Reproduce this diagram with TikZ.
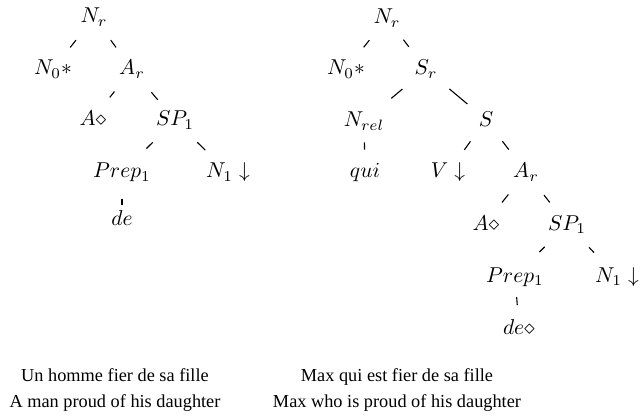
\documentclass[tikz,border=0pt]{standalone}
\usepackage{fontspec}
\setmainfont{Liberation Serif}
\usepackage{graphicx}
\usetikzlibrary{calc}
\newcommand{\mysegdraw}[4]{\draw[seg] ($(#1)!#3!(#2)$) -- ($(#1)!#4!(#2)$);}
\newcommand{\mymath}[1]{\scalebox{2.15}{$#1$}}
\begin{document}
\begin{tikzpicture}[x=1pt,y=-1pt,
  tn/.style={anchor=base,inner sep=0pt,font=\fontsize{10}{12}\selectfont},
  captxt/.style={anchor=base,inner sep=0pt,font=\fontsize{18.3}{26}\selectfont},
  seg/.style={line width=1.1pt}]
\useasboundingbox (0,0) rectangle (640,417);
% left tree
\node[tn] (lNr) at (94,23) {\mymath{N_r}};
\node[tn] (lN0) at (53,75) {\mymath{N_0{\ast}}};
\node[tn] (lAr) at (132,75) {\mymath{A_r}};
\node[tn] (lA) at (93,126) {\mymath{A{\diamond}}};
\node[tn] (lSP) at (175,126) {\mymath{SP_1}};
\node[tn] (lPrep) at (122,178) {\mymath{Prep_1}};
\node[tn] (lN1) at (228,178) {\mymath{N_1\;{\downarrow}}};
\node[tn] (lde) at (122,225) {\mymath{de}};
\mysegdraw{lNr}{lN0}{0.44}{0.58}
\mysegdraw{lNr}{lAr}{0.44}{0.58}
\mysegdraw{lAr}{lA}{0.45}{0.57}
\mysegdraw{lAr}{lSP}{0.45}{0.60}
\mysegdraw{lSP}{lPrep}{0.42}{0.54}
\mysegdraw{lSP}{lN1}{0.42}{0.57}
\mysegdraw{lPrep}{lde}{0.58}{0.72}
% right tree
\node[tn] (rNr) at (387,24) {\mymath{N_r}};
\node[tn] (rN0) at (346,75) {\mymath{N_0{\ast}}};
\node[tn] (rSr) at (426,75) {\mymath{S_r}};
\node[tn] (rNrel) at (364,127) {\mymath{N_{rel}}};
\node[tn] (rS) at (486,127) {\mymath{S}};
\node[tn] (rqui) at (365,178) {\mymath{qui}};
\node[tn] (rV) at (448,178) {\mymath{V\;{\downarrow}}};
\node[tn] (rAr) at (526,178) {\mymath{A_r}};
\node[tn] (rA) at (486,230) {\mymath{A{\diamond}}};
\node[tn] (rSP) at (567,230) {\mymath{SP_1}};
\node[tn] (rPrep) at (515,282) {\mymath{Prep_1}};
\node[tn] (rN1) at (617,282) {\mymath{N_1\;{\downarrow}}};
\node[tn] (rde) at (519,334) {\mymath{de{\diamond}}};
\mysegdraw{rNr}{rN0}{0.43}{0.57}
\mysegdraw{rNr}{rSr}{0.42}{0.56}
\mysegdraw{rSr}{rNrel}{0.38}{0.56}
\mysegdraw{rSr}{rS}{0.39}{0.69}
\mysegdraw{rNrel}{rqui}{0.41}{0.55}
\mysegdraw{rS}{rV}{0.41}{0.57}
\mysegdraw{rS}{rAr}{0.41}{0.57}
\mysegdraw{rAr}{rA}{0.44}{0.60}
\mysegdraw{rAr}{rSP}{0.44}{0.58}
\mysegdraw{rSP}{rPrep}{0.43}{0.53}
\mysegdraw{rSP}{rN1}{0.44}{0.54}
\mysegdraw{rPrep}{rde}{0.41}{0.57}
% captions
\node[captxt] (lcap1) at (115,381) {Un homme fier de sa fille};
\node[captxt] (lcap2) at (115,407) {A man proud of his daughter};
\node[captxt] (rcap1) at (397,381) {Max qui est fier de sa fille};
\node[captxt] (rcap2) at (397,407) {Max who is proud of his daughter};
\end{tikzpicture}
\end{document}
